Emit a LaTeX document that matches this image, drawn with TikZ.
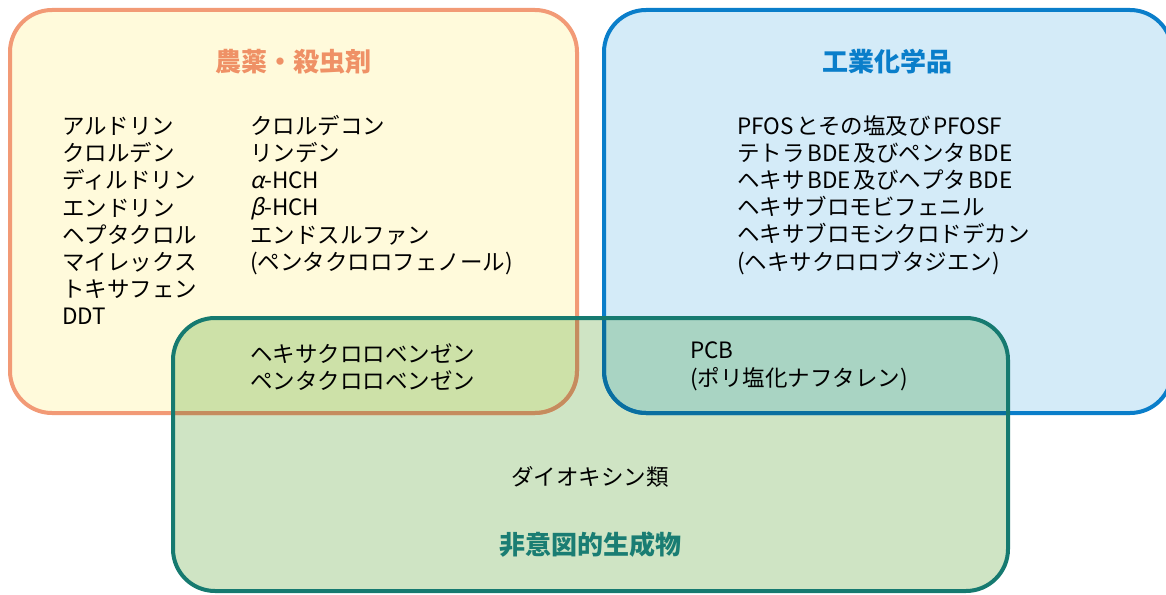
\documentclass[tikz,border=0pt]{standalone}
\usepackage{fontspec}
\setmainfont{Noto Sans CJK JP}
\newfontfamily\grkfont[FakeSlant=0.22]{Noto Sans CJK JP}
\definecolor{orgline}{HTML}{F29A76}
\definecolor{orgtext}{HTML}{EF9166}
\definecolor{yelfill}{HTML}{FFFADB}
\definecolor{blueline}{HTML}{0A7ECA}
\definecolor{bluetext}{HTML}{0A7ECA}
\definecolor{bluefill}{HTML}{D4EBF8}
\definecolor{grnline}{HTML}{167A70}
\definecolor{grntext}{HTML}{1A7D73}
\definecolor{grnfill}{HTML}{CFE4C4}
\definecolor{ovY}{HTML}{CDE1A8}
\definecolor{ovB}{HTML}{A9D4C3}
\definecolor{orgdark}{HTML}{C58C5E}
\definecolor{bluedark}{HTML}{0A6FA0}
\newcommand{\js}{\hspace{0.12em}}
\begin{document}
\begin{tikzpicture}[x=1pt,y=-1pt,
  rc/.style={rounded corners=42pt},
  frame/.style={rc,line width=4pt},
  title/.style={font=\fontsize{26}{30}\selectfont\bfseries, inner sep=0pt},
  body/.style={font=\fontsize{22.5}{27.2}\selectfont, inner sep=0pt, align=left, text=black}]
\useasboundingbox (0,0) rectangle (1166,594);
% fills
\fill[yelfill,rc] (10,10) rectangle (577,413);
\fill[bluefill,rc] (604,10) rectangle (1172,413);
\fill[grnfill,rc] (173,318) rectangle (1008,591);
\begin{scope}
  \clip[rc] (173,318) rectangle (1008,591);
  \fill[ovY,rc] (10,10) rectangle (577,413);
  \fill[ovB,rc] (604,10) rectangle (1172,413);
\end{scope}
% borders
\draw[orgline,frame] (10,10) rectangle (577,413);
\draw[blueline,frame] (604,10) rectangle (1172,413);
\begin{scope}
  \clip[rc] (173,318) rectangle (1008,591);
  \draw[orgdark,frame] (10,10) rectangle (577,413);
  \draw[bluedark,frame] (604,10) rectangle (1172,413);
\end{scope}
\draw[grnline,frame] (173,318) rectangle (1008,591);
% titles
\node[title,text=orgtext] (t1) at (293,62) {農薬・殺虫剤};
\node[title,text=bluetext] (t2) at (887,62) {工業化学品};
\node[title,text=grntext] (t3) at (590,545) {非意図的生成物};
% lists
\node[body,anchor=north west] (c1) at (62,117) {アルドリン\\クロルデン\\ディルドリン\\エンドリン\\ヘプタクロル\\マイレックス\\トキサフェン\\DDT};
\node[body,anchor=north west] (c2) at (250,115) {クロルデコン\\リンデン\\{\grkfont α}-HCH\\{\grkfont β}-HCH\\エンドスルファン\\(ペンタクロロフェノール)};
\node[body,anchor=north west] (c3) at (737,115) {PFOS\js とその塩及び\js PFOSF\\テトラ\js BDE\js 及びペンタ\js BDE\\ヘキサ\js BDE\js 及びヘプタ\js BDE\\ヘキサブロモビフェニル\\ヘキサブロモシクロドデカン\\(ヘキサクロロブタジエン)};
\node[body,anchor=north west] (c4) at (250,343) {ヘキサクロロベンゼン\\ペンタクロロベンゼン};
\node[body,anchor=north west] (c5) at (690,342) {PCB\\(ポリ塩化ナフタレン)};
\node[body] (c6) at (590,477) {ダイオキシン類};
\end{tikzpicture}
\end{document}
